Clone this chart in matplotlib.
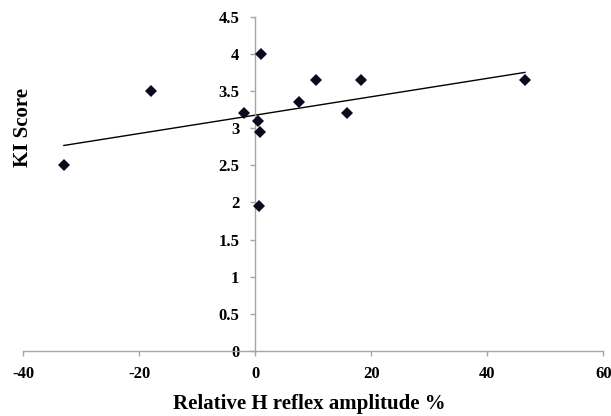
import numpy as np
import matplotlib
matplotlib.use("Agg")
import matplotlib.pyplot as plt

# Data
h_reflex = [-33.0, -18.0, -2.0, 1.0, 0.5, 0.8, 0.7, 7.5, 10.5, 15.8, 18.3, 46.5]
ki_score = [2.5, 3.5, 3.2, 4.0, 3.1, 2.95, 1.95, 3.35, 3.65, 3.2, 3.65, 3.65]

x_ticks = [-40, -20, 0, 20, 40, 60]
x_ticklabels = ["-40", "-20", "0", "20", "40", "60"]
y_ticks = [0, 0.5, 1, 1.5, 2, 2.5, 3, 3.5, 4, 4.5]
y_ticklabels = ["0", "0.5", "1", "1.5", "2", "2.5", "3", "3.5", "4", "4.5"]

x_label = "Relative H reflex amplitude %"
y_label = "KI Score"

plt.rcParams['font.family'] = ['Liberation Serif', 'DejaVu Serif']
plt.rcParams['font.weight'] = 'bold'

fig = plt.figure(figsize=(6.11, 4.16), dpi=100)
ax = fig.add_axes([0.0381, 0.1562, 0.9493, 0.8037])

ax.spines['top'].set_visible(False)
ax.spines['right'].set_visible(False)
ax.spines['left'].set_position(('data', 0))
for s in ['left', 'bottom']:
    ax.spines[s].set_color('#a6a6a6')
    ax.spines[s].set_linewidth(1.0)

x = np.array(h_reflex)
y = np.array(ki_score)

# linear trendline through the data
slope, intercept = np.polyfit(x, y, 1)
xl = np.array([x.min(), x.max()])
ax.plot(xl, slope * xl + intercept, color='black', lw=1.0, zorder=2)

ax.plot(x, y, linestyle='none', marker='D', markersize=6.4,
        color='#0b0b1e', markeredgewidth=0, zorder=3)

ax.set_xlim(-40, 60)
ax.set_ylim(0, 4.5)
ax.set_xticks(x_ticks)
ax.set_xticklabels(x_ticklabels)
ax.set_yticks(y_ticks)
ax.set_yticklabels(y_ticklabels)

ax.tick_params(axis='both', direction='out', length=3.5, width=1.0,
               color='#a6a6a6', labelcolor='black', labelsize=12)
ax.tick_params(axis='y', pad=8)
ax.tick_params(axis='x', pad=7)
for lab in ax.get_xticklabels() + ax.get_yticklabels():
    lab.set_fontweight('bold')

fig.text(23.5 / 611, 1 - 127.5 / 416, y_label, rotation=90, ha='center',
         va='center', fontsize=15, fontweight='bold')
fig.text(309.5 / 611, 7 / 416, x_label, ha='center', va='baseline',
         fontsize=15, fontweight='bold')

fig.savefig('out.png', dpi=100)
